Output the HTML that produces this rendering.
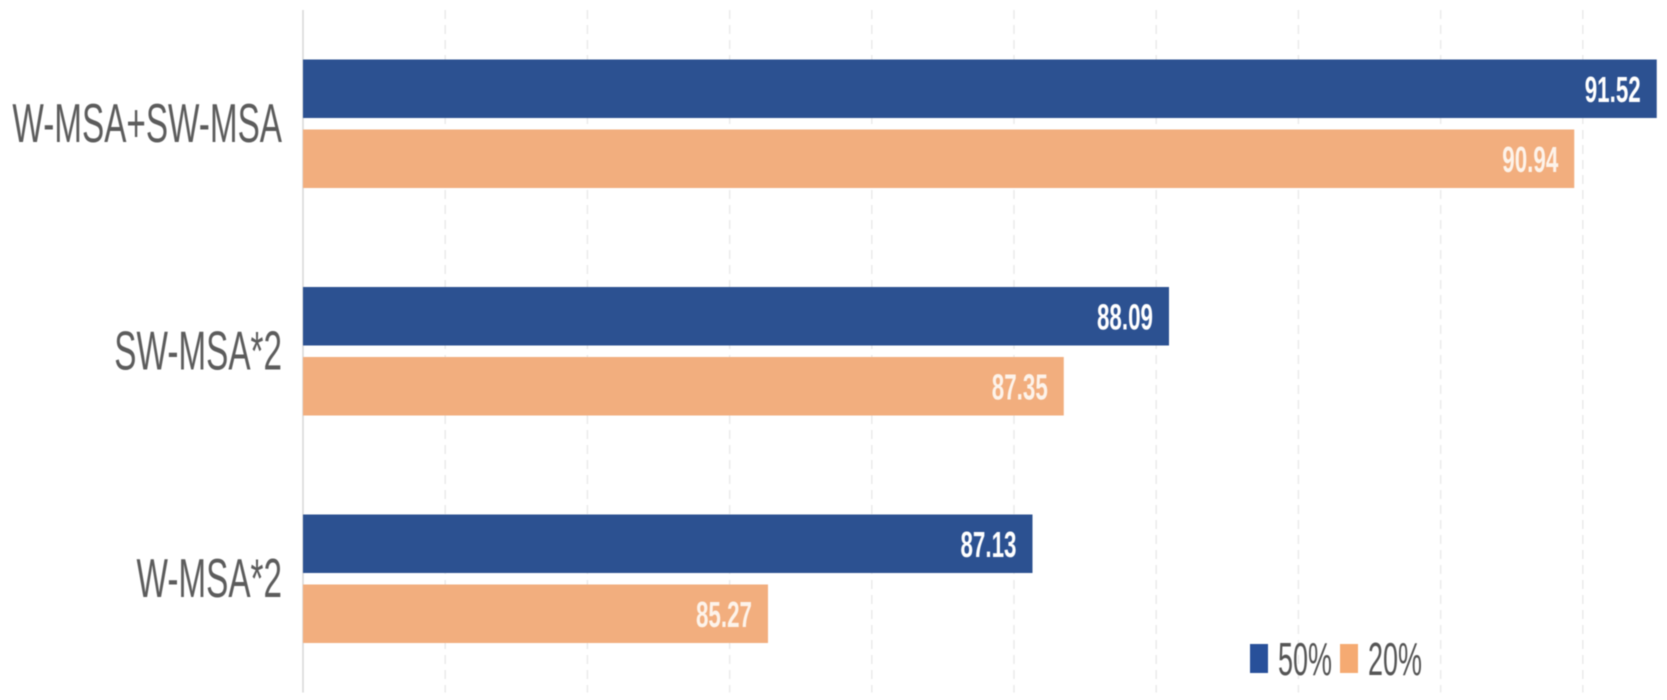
<!DOCTYPE html>
<html lang="en">
<head>
<meta charset="utf-8">
<title>W-MSA and SW-MSA accuracy comparison</title>
<style>
html,body{margin:0;padding:0;background:#fff;width:1667px;height:700px;overflow:hidden}
svg{display:block;filter:blur(.45px)}
text{font-family:"Liberation Sans",sans-serif}
</style>
</head>
<body>
<svg id="chart" xmlns="http://www.w3.org/2000/svg" width="1667" height="700" viewBox="0 0 1667 700">
  <g id="grid"></g>
  <g id="bars"></g>
  <g id="labels"></g>
  <g id="legend">
    <g>
      <rect x="1250" y="644" width="18" height="29" fill="#28509a"></rect>
      <text x="1278" y="675" font-size="46" textLength="54" lengthAdjust="spacingAndGlyphs" fill="#555">50%</text>
    </g>
    <g>
      <rect x="1340" y="644" width="18" height="29" fill="#f5aa72"></rect>
      <text x="1368" y="675" font-size="46" textLength="54" lengthAdjust="spacingAndGlyphs" fill="#555">20%</text>
    </g>
  </g>
</svg>
<script>
const categories = ['W-MSA+SW-MSA', 'SW-MSA*2', 'W-MSA*2'];
const series50 = [91.52, 88.09, 87.13];
const series20 = [90.94, 87.35, 85.27];
const seriesNames = ['50%', '20%'];
const ticks = [82, 83, 84, 85, 86, 87, 88, 89, 90, 91];

const SVGNS = 'http://www.w3.org/2000/svg';
const axisMin = 82, unitPx = 142.2, plotLeft = 303;
const plotTop = 10, bandStep = 227.5, barH = 58.5, barGap = 11.5;
const seriesAll = [series50, series20];
const seriesColors = ['#2c5191', '#f2ae7e'];

function xScale(v) { return plotLeft + (v - axisMin) * unitPx; }
function bandCenter(i) { return plotTop + bandStep * (i + 0.5); }
function plotBottom() { return plotTop + bandStep * categories.length; }
function setAttrs(el, attrs) { for (const k in attrs) el.setAttribute(k, attrs[k]); }

const gridG = document.getElementById('grid');
const barsG = document.getElementById('bars');
const labelsG = document.getElementById('labels');

ticks.forEach(function (t, i) {
  const line = document.createElementNS(SVGNS, 'line');
  
  
  setAttrs(line, {
    x1: xScale(t), x2: xScale(t), y1: plotTop, y2: plotBottom(),
    stroke: i === 0 ? '#d9d9d9' : '#e9e9e9',
    'stroke-width': i === 0 ? 1.6 : 1.4
  });
  if (i !== 0) line.setAttribute('stroke-dasharray', '9 6');
  gridG.appendChild(line);
});

categories.forEach(function (cat, c) {
  const label = document.createElementNS(SVGNS, 'text');
  
  
  label.textContent = cat;
  setAttrs(label, { 'font-size': 55, fill: '#5c5c5c', 'text-anchor': 'end', x: 282, y: bandCenter(c) + 18 });
  labelsG.appendChild(label);
  const natural = label.getComputedTextLength();
  label.setAttribute('textLength', (natural * 0.605).toFixed(1));
  label.setAttribute('lengthAdjust', 'spacingAndGlyphs');

  seriesAll.forEach(function (vals, s) {
    const top = bandCenter(c) - barH - barGap / 2 + s * (barH + barGap);
    const bar = document.createElementNS(SVGNS, 'rect');
    
    
    setAttrs(bar, {
      x: plotLeft, y: top,
      width: xScale(vals[c]) - plotLeft, height: barH,
      fill: seriesColors[s]
    });
    barsG.appendChild(bar);

    const value = document.createElementNS(SVGNS, 'text');
    
    
    value.textContent = vals[c].toFixed(2);
    setAttrs(value, {
      x: xScale(vals[c]) - 16, y: top + barH / 2 + 13,
      'text-anchor': 'end', 'font-size': 36, 'font-weight': 'bold',
      fill: s === 0 ? '#ffffff' : '#fdf3ea',
      textLength: 56, lengthAdjust: 'spacingAndGlyphs'
    });
    barsG.appendChild(value);
  });
});
</script>
</body>
</html>
